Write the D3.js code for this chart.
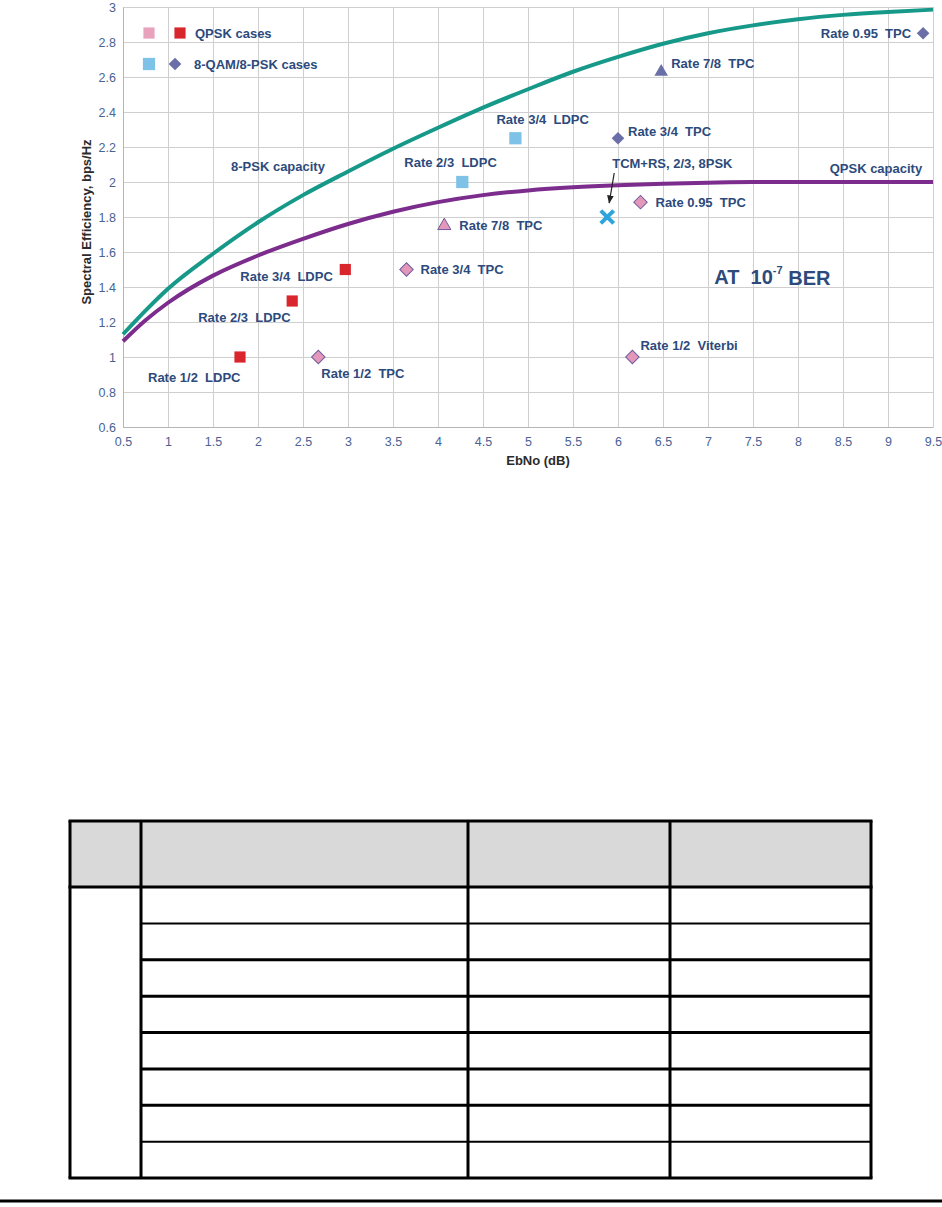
<!DOCTYPE html>
<html>
<head>
<meta charset="utf-8">
<script src="https://cdn.jsdelivr.net/npm/d3@7"></script>
<style>
  body { margin: 0; background: #fff; }
  text { font-family: "Liberation Sans", Arial, sans-serif; }
</style>
</head>
<body>
<div class="chart"></div>
<script>
// capacity curves
var capEbNo  = [0.5, 0.75, 1, 1.5, 2, 2.5, 3, 3.5, 4, 4.5, 5, 5.5, 6, 6.5, 7, 7.5, 8, 8.5, 9, 9.5];
var psk8Cap  = [1.13, 1.265, 1.39, 1.59, 1.77, 1.925, 2.06, 2.19, 2.31, 2.425, 2.53, 2.63, 2.715, 2.79, 2.85, 2.895, 2.93, 2.955, 2.972, 2.985];
var qpskCap  = [1.09, 1.21, 1.31, 1.465, 1.58, 1.675, 1.76, 1.83, 1.885, 1.925, 1.952, 1.97, 1.982, 1.99, 1.996, 2.0, 2.0, 2.0, 2.0, 2.0];

// measured operating points
var caseNames = ["Rate 1/2  LDPC", "Rate 2/3  LDPC", "Rate 3/4  LDPC",
                 "Rate 1/2  TPC", "Rate 3/4  TPC", "Rate 7/8  TPC", "Rate 0.95  TPC", "Rate 1/2  Viterbi",
                 "Rate 2/3  LDPC", "Rate 3/4  LDPC",
                 "Rate 3/4  TPC", "Rate 7/8  TPC", "Rate 0.95  TPC",
                 "TCM+RS, 2/3, 8PSK"];
var caseGroup = ["qpskLdpc", "qpskLdpc", "qpskLdpc",
                 "qpskTpc", "qpskTpc", "qpskTpc78", "qpskTpc", "qpskTpc",
                 "psk8Ldpc", "psk8Ldpc",
                 "psk8Tpc", "psk8Tpc78", "psk8Tpc",
                 "tcm"];
var caseEbNo  = [1.8, 2.38, 2.97, 2.67, 3.65, 4.07, 6.25, 6.16, 4.27, 4.86, 6.0, 6.48, 9.39, 5.88];
var caseEff   = [1.0, 1.32, 1.5, 1.0, 1.5, 1.75, 1.885, 1.0, 2.0, 2.25, 2.25, 2.63, 2.85, 1.8];

var xTicks = [0.5, 1, 1.5, 2, 2.5, 3, 3.5, 4, 4.5, 5, 5.5, 6, 6.5, 7, 7.5, 8, 8.5, 9, 9.5];
var yTicks = [0.6, 0.8, 1, 1.2, 1.4, 1.6, 1.8, 2, 2.2, 2.4, 2.6, 2.8, 3];

var legendNames = ["QPSK cases", "8-QAM/8-PSK cases"];

// the empty table below the chart
var tableColumns = 4;
var tableBodyRows = 8;

var svgWidth = 942;
var svgHeight = 1207;
var margin = { top: 7, left: 123 };
var width = 810;
var height = 420;

var ink = "#2d4a7c";
var tickInk = "#4a6294";

var svg = d3.select(".chart")
  .append("svg")
  .attr("width", svgWidth)
  .attr("height", svgHeight);

var chartGroup = svg.append("g")
  .attr("transform", `translate(${margin.left}, ${margin.top})`);

var xLinearScale = d3.scaleLinear().domain([0.5, 9.5]).range([0, width]);
var yLinearScale = d3.scaleLinear().domain([0.6, 3]).range([height, 0]);

// grid
chartGroup.append("g")
  .call(d3.axisLeft(yLinearScale).tickValues(yTicks).tickSize(-width).tickFormat(""))
  .call(g => g.select(".domain").remove())
  .selectAll("line").attr("stroke", "#cfcfcf");
chartGroup.append("g")
  .attr("transform", `translate(0, ${height})`)
  .call(d3.axisBottom(xLinearScale).tickValues(xTicks).tickSize(-height).tickFormat(""))
  .call(g => g.select(".domain").remove())
  .selectAll("line").attr("stroke", "#cfcfcf");

// axis lines + labels
var bottomAxis = d3.axisBottom(xLinearScale).tickValues(xTicks).tickSize(0).tickPadding(10)
  .tickFormat(d => String(d));
var leftAxis = d3.axisLeft(yLinearScale).tickValues(yTicks).tickSize(0).tickPadding(7)
  .tickFormat(d => String(d));

var xAxis = chartGroup.append("g")
  .attr("transform", `translate(0, ${height})`)
  .call(bottomAxis);
var yAxis = chartGroup.append("g").call(leftAxis);

[xAxis, yAxis].forEach(function(ax) {
  ax.select(".domain").attr("stroke", "#b5b5b5");
  ax.selectAll("text")
    .attr("fill", tickInk)
    .attr("font-size", 12.5)
    .attr("font-family", "Liberation Sans, Arial, sans-serif");
});

chartGroup.append("text")
  .attr("x", width / 2 + 10)
  .attr("y", height + 33)
  .attr("dy", "0.35em")
  .attr("text-anchor", "middle")
  .attr("font-weight", "bold")
  .attr("font-size", 13)
  .attr("fill", "#2b2b2b")
  .text("EbNo (dB)");

chartGroup.append("g")
  .attr("transform", "rotate(-90)")
  .append("text")
  .attr("x", -215)
  .attr("y", -37)
  .attr("dy", "0.35em")
  .attr("text-anchor", "middle")
  .attr("font-weight", "bold")
  .attr("font-size", 13)
  .attr("fill", "#2b2b2b")
  .text("Spectral Efficiency, bps/Hz");

// capacity curves
var line = d3.line()
  .x(d => xLinearScale(d[0]))
  .y(d => yLinearScale(d[1]))
  .curve(d3.curveMonotoneX);

chartGroup.append("path")
  .datum(capEbNo.map((v, i) => [v, psk8Cap[i]]))
  .attr("d", line)
  .attr("fill", "none")
  .attr("stroke", "#17998a")
  .attr("stroke-width", 4);

chartGroup.append("path")
  .datum(capEbNo.map((v, i) => [v, qpskCap[i]]))
  .attr("d", line)
  .attr("fill", "none")
  .attr("stroke", "#7b2c8c")
  .attr("stroke-width", 4);

// marker styles per group
var markerStyle = {
  qpskLdpc:  { type: d3.symbolSquare,   size: 125, rotate: 0,  fill: "#d8262c", stroke: "none" },
  qpskTpc:   { type: d3.symbolSquare,   size: 90,  rotate: 45, fill: "#e597b9", stroke: "#6c5b9e" },
  qpskTpc78: { type: d3.symbolTriangle, size: 75,  rotate: 0,  fill: "#e597b9", stroke: "#6c5b9e" },
  psk8Ldpc:  { type: d3.symbolSquare,   size: 150, rotate: 0,  fill: "#7ec3e7", stroke: "none" },
  psk8Tpc:   { type: d3.symbolSquare,   size: 80,  rotate: 45, fill: "#6b6fa7", stroke: "none" },
  psk8Tpc78: { type: d3.symbolTriangle, size: 80,  rotate: 0,  fill: "#6b6fa7", stroke: "none" },
  tcm:       { type: d3.symbolTimes || d3.symbolCross, size: 110, rotate: 0, fill: "none", stroke: "#2ea4dd" }
};

// label placement relative to each point [dx, dy, anchor]
var labelPlace = [
  [-92, 20, "start"], [-94, 16, "start"], [-105, 7, "start"],
  [3, 16, "start"], [14, 0, "start"], [15, 0, "start"], [15, 0, "start"], [8, -12, "start"],
  [-58, -20, "start"], [-19, -19, "start"],
  [10, -7, "start"], [10, -8, "start"], [-12, 0, "end"],
  [5, -54, "start"]
];

var caseData = caseNames.map((n, i) => ({ name: n, group: caseGroup[i], x: caseEbNo[i], y: caseEff[i], i: i }));

var circlesGroup = chartGroup.selectAll(".pt")
  .data(caseData)
  .enter()
  .append("path")
  .attr("class", "pt")
  .attr("transform", d => `translate(${xLinearScale(d.x)}, ${yLinearScale(d.y)}) rotate(${markerStyle[d.group].rotate})`)
  .attr("d", d => d3.symbol().type(markerStyle[d.group].type).size(markerStyle[d.group].size)())
  .attr("fill", d => markerStyle[d.group].fill)
  .attr("stroke", d => markerStyle[d.group].stroke)
  .attr("stroke-width", d => d.group === "tcm" ? 4 : 1);

var textGroup = chartGroup.selectAll(".lbl")
  .data(caseData)
  .enter()
  .append("text")
  .attr("class", "lbl")
  .attr("xml:space", "preserve")
  .style("white-space", "pre")
  .attr("x", d => xLinearScale(d.x) + labelPlace[d.i][0])
  .attr("y", d => yLinearScale(d.y) + labelPlace[d.i][1])
  .attr("dy", "0.35em")
  .attr("text-anchor", d => labelPlace[d.i][2])
  .attr("font-weight", "bold")
  .attr("font-size", 13)
  .attr("fill", ink)
  .text(d => d.name);

// arrow pointing at the TCM+RS cross
var tcm = caseData[13];
svg.append("defs").append("marker")
  .attr("id", "arrowhead")
  .attr("viewBox", "0 0 10 10")
  .attr("refX", 9).attr("refY", 5)
  .attr("markerWidth", 7).attr("markerHeight", 7)
  .attr("orient", "auto")
  .append("path").attr("d", "M0,1L10,5L0,9Z").attr("fill", "#222");
chartGroup.append("line")
  .attr("x1", xLinearScale(tcm.x) + 7)
  .attr("y1", yLinearScale(tcm.y) - 44)
  .attr("x2", xLinearScale(tcm.x) + 2)
  .attr("y2", yLinearScale(tcm.y) - 14)
  .attr("stroke", "#222")
  .attr("stroke-width", 1.2)
  .attr("marker-end", "url(#arrowhead)");

// curve labels
chartGroup.append("text")
  .attr("x", xLinearScale(1.7)).attr("y", yLinearScale(2.09)).attr("dy", "0.35em")
  .attr("font-weight", "bold").attr("font-size", 13).attr("fill", ink)
  .text("8-PSK capacity");
chartGroup.append("text")
  .attr("x", xLinearScale(9.38)).attr("y", yLinearScale(2.075)).attr("dy", "0.35em")
  .attr("text-anchor", "end")
  .attr("font-weight", "bold").attr("font-size", 13).attr("fill", ink)
  .text("QPSK capacity");

// AT 10^-7 BER
var ber = chartGroup.append("text")
  .attr("x", xLinearScale(7.07)).attr("y", yLinearScale(1.455)).attr("dy", "0.35em")
  .attr("xml:space", "preserve").style("white-space", "pre")
  .attr("font-weight", "bold").attr("font-size", 20).attr("fill", ink);
ber.append("tspan").text("AT  10");
ber.append("tspan").attr("font-size", 11).attr("dy", "-0.9em").text("-7");
ber.append("tspan").attr("dy", "0.55em").text(" BER");

// legend
var legend = chartGroup.append("g").attr("transform", "translate(26, 26)");
var legendMarks = [
  [["qpskTpc", 0, 125, "#e8a2bb"], ["qpskLdpc", 31, 125, "#d8262c"]],
  [["psk8Ldpc", 0, 150, "#7ec3e7"], ["psk8Tpc", 26, 80, "#6b6fa7"]]
];
legendMarks.forEach(function(row, r) {
  row.forEach(function(m) {
    var rot = m[0] === "psk8Tpc" ? 45 : 0;
    legend.append("path")
      .attr("transform", `translate(${m[1]}, ${r * 31}) rotate(${rot})`)
      .attr("d", d3.symbol().type(d3.symbolSquare).size(m[2])())
      .attr("fill", m[3]);
  });
  legend.append("text")
    .attr("x", r === 0 ? 46 : 45)
    .attr("y", r * 31)
    .attr("dy", "0.35em")
    .attr("font-weight", "bold").attr("font-size", 13).attr("fill", ink)
    .text(legendNames[r]);
});

// empty table
var tableTop = 821, headerBottom = 887, tableBottom = 1178;
var colEdges = [70, 141, 468, 670, 871];
var rowScale = d3.scaleLinear().domain([0, tableBodyRows]).range([headerBottom, tableBottom]);
var table = svg.append("g");

table.append("rect")
  .attr("x", colEdges[0]).attr("y", tableTop)
  .attr("width", colEdges[tableColumns] - colEdges[0])
  .attr("height", headerBottom - tableTop)
  .attr("fill", "#d9d9d9");

// horizontal rules in the body (the first column is one merged cell)
table.selectAll(".hrule")
  .data(d3.range(1, tableBodyRows))
  .enter()
  .append("line")
  .attr("x1", colEdges[1]).attr("x2", colEdges[tableColumns])
  .attr("y1", d => rowScale(d)).attr("y2", d => rowScale(d))
  .attr("stroke", "#000")
  .attr("stroke-width", d => (d === 1 || d === tableBodyRows - 1) ? 2 : 3);

table.selectAll(".vrule")
  .data(colEdges)
  .enter()
  .append("line")
  .attr("x1", d => d).attr("x2", d => d)
  .attr("y1", tableTop).attr("y2", tableBottom)
  .attr("stroke", "#000")
  .attr("stroke-width", 3);

[tableTop, headerBottom, tableBottom].forEach(function(y, k) {
  table.append("line")
    .attr("x1", colEdges[0] - 1.5).attr("x2", colEdges[tableColumns] + 1.5)
    .attr("y1", y).attr("y2", y)
    .attr("stroke", "#000").attr("stroke-width", 3);
});

// page rule
svg.append("line")
  .attr("x1", 0).attr("x2", svgWidth)
  .attr("y1", 1201).attr("y2", 1201)
  .attr("stroke", "#000").attr("stroke-width", 3);
</script>
</body>
</html>
